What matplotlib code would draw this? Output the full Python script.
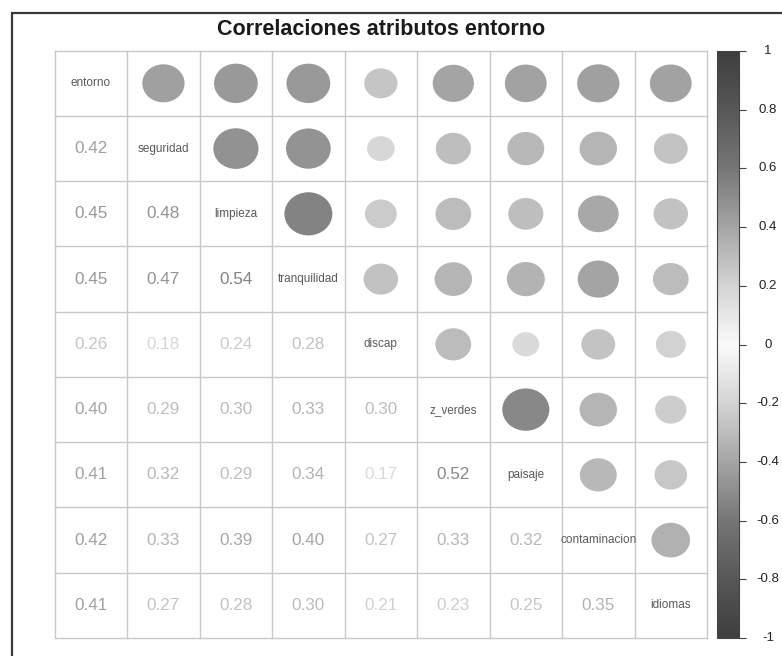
import numpy as np
import matplotlib
matplotlib.use("Agg")
import matplotlib.pyplot as plt
from matplotlib.colors import LinearSegmentedColormap, Normalize
from matplotlib.patches import Ellipse, Rectangle
from matplotlib.cm import ScalarMappable

plt.rcParams['font.family'] = ['Liberation Sans', 'DejaVu Sans']

# Variables and lower-triangle correlations (row i, columns 0..i-1)
variables = ["entorno", "seguridad", "limpieza", "tranquilidad", "discap",
             "z_verdes", "paisaje", "contaminacion", "idiomas"]
lower = [
    [],
    [0.42],
    [0.45, 0.48],
    [0.45, 0.47, 0.54],
    [0.26, 0.18, 0.24, 0.28],
    [0.40, 0.29, 0.30, 0.33, 0.30],
    [0.41, 0.32, 0.29, 0.34, 0.17, 0.52],
    [0.42, 0.33, 0.39, 0.40, 0.27, 0.33, 0.32],
    [0.41, 0.27, 0.28, 0.30, 0.21, 0.23, 0.25, 0.35],
]
cbar_ticks = [1, 0.8, 0.6, 0.4, 0.2, 0, -0.2, -0.4, -0.6, -0.8, -1]
title = "Correlaciones atributos entorno"

n = len(variables)
corr = np.eye(n)
for i, row in enumerate(lower):
    for j, v in enumerate(row):
        corr[i, j] = v
        corr[j, i] = v

# grey diverging palette, white at zero
stops = [(0.0, 62), (0.1, 88), (0.2, 118), (0.3, 165), (0.4, 212), (0.5, 250),
         (0.6, 212), (0.7, 165), (0.8, 118), (0.9, 88), (1.0, 62)]
cmap = LinearSegmentedColormap.from_list(
    "greys_div", [(p, (g / 255, g / 255, g / 255)) for p, g in stops])
norm = Normalize(-1, 1)

W, H = 782, 656
fig = plt.figure(figsize=(W / 100, H / 100), dpi=100)

# outer frame
fig.add_artist(Rectangle((12 / W, -0.1), 2, 1 - 13 / H + 0.1, transform=fig.transFigure,
                         fill=False, lw=1.6, edgecolor="#3a3a3a"))

gl, gr, gt, gb = 54.7, 707.0, 50.7, 638.0
ax = fig.add_axes([gl / W, 1 - gb / H, (gr - gl) / W, (gb - gt) / H])
ax.set_xlim(0, n)
ax.set_ylim(n, 0)
ax.axis("off")

for k in range(n + 1):
    ax.plot([0, n], [k, k], color="#c8c8c8", lw=1.0, clip_on=False)
    ax.plot([k, k], [0, n], color="#c8c8c8", lw=1.0, clip_on=False)

for i in range(n):
    for j in range(n):
        v = corr[i, j]
        if i == j:
            ax.text(j + 0.5, i + 0.5, variables[i], ha="center", va="center",
                    fontsize=8.5, color="#5a5a5a")
        elif i > j:
            ax.text(j + 0.5, i + 0.5, f"{v:.2f}", ha="center", va="center",
                    fontsize=12.3, color=cmap(norm(v)))
        else:
            d = 0.9 * np.sqrt(abs(v))
            ax.add_patch(Ellipse((j + 0.5, i + 0.5), d, d, facecolor=cmap(norm(v)),
                                 edgecolor="none"))

ax.text(n / 2, -0.33, title, ha="center", va="center", fontsize=15.5,
        fontweight="bold", color="#1a1a1a")

# colour legend
cl, cr = 717, 739
cax = fig.add_axes([cl / W, 1 - 638 / H, (cr - cl) / W, (638 - 51) / H])
cb = fig.colorbar(ScalarMappable(norm=norm, cmap=cmap), cax=cax)
cb.outline.set_edgecolor("#444444")
cb.outline.set_linewidth(0.8)
cb.set_ticks(cbar_ticks)
cax.tick_params(length=5, width=0.8, color="#444444", labelright=False)
for t in cbar_ticks:
    cax.text((768 - cl) / (cr - cl), t, f"{t:g}", transform=cax.get_yaxis_transform(),
             ha="center", va="center", fontsize=9.5, color="#222222")

fig.savefig("out.png", dpi=100)
